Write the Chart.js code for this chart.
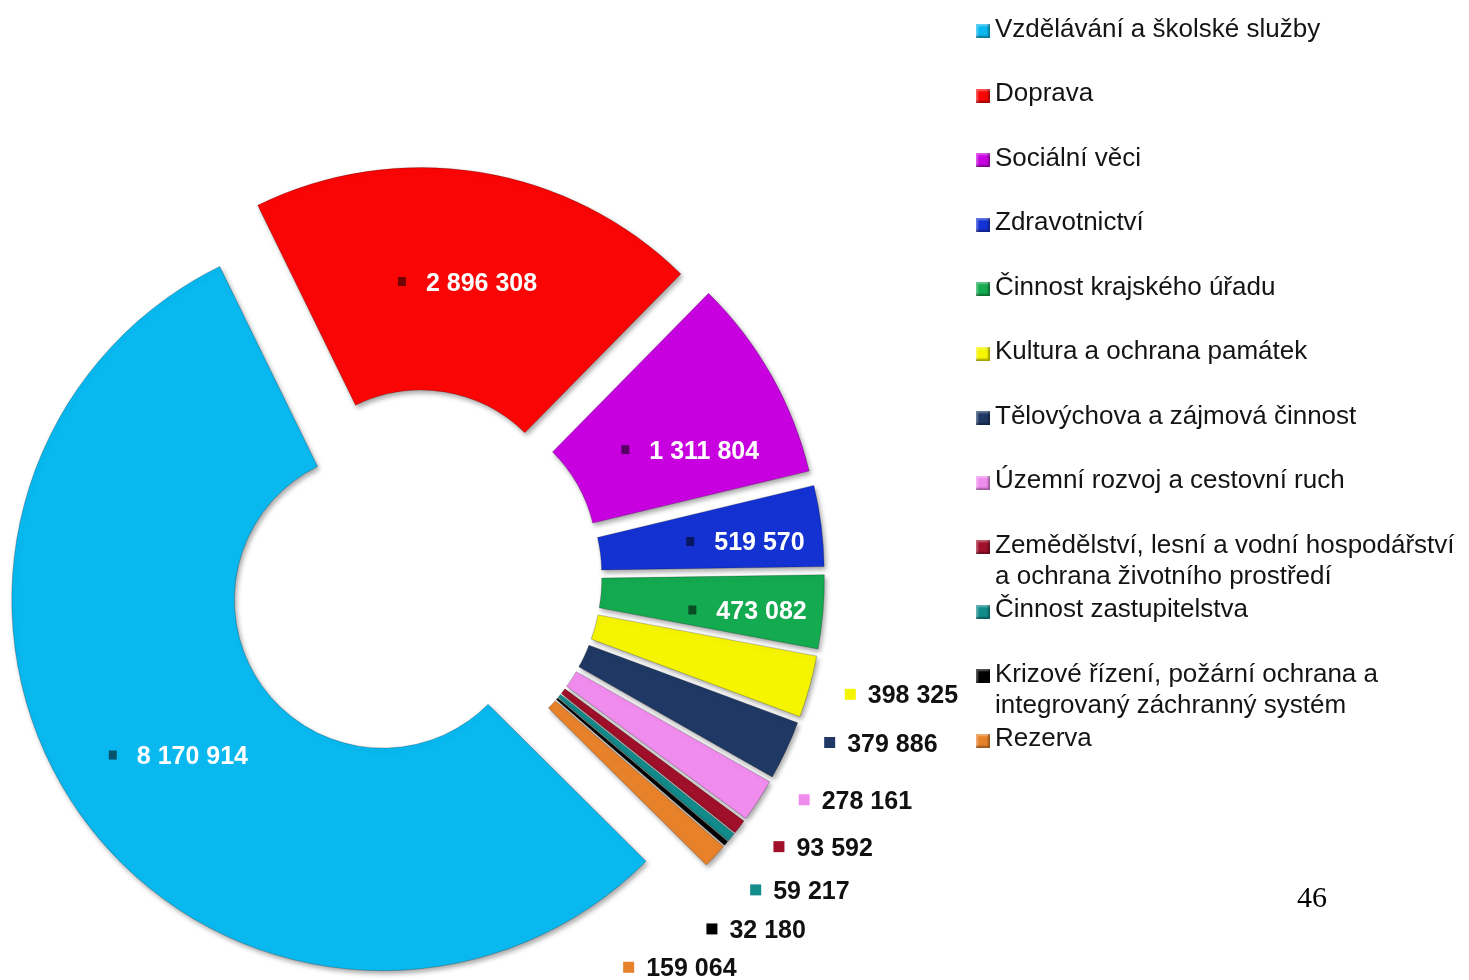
<!DOCTYPE html>
<html>
<head>
<meta charset="utf-8">
<script src="https://cdn.jsdelivr.net/npm/chart.js@4/dist/chart.umd.min.js"></script>
<style>
    html, body { margin: 0; padding: 0; background: #fff; overflow: hidden; }
    #wrap { position: relative; width: 1469px; height: 980px; }
    #graf { position: absolute; left: 0; top: 0; }
    #legenda { position: absolute; left: 976px; top: 0; font-family: "Liberation Sans", Arial, sans-serif; font-size: 26px; line-height: 31px; color: #141414; }
    .pol { position: absolute; left: 0; white-space: nowrap; }
    .ctverec { position: absolute; left: 0; top: 11.5px; width: 14px; height: 14px; box-shadow: inset -2px -2px 2px rgba(0,0,0,0.35), inset 2px 2px 2px rgba(255,255,255,0.35); }
    .text { position: absolute; left: 19px; top: 0; }
    #strana { position: absolute; left: 1297px; top: 882px; font-family: "Liberation Serif", "Times New Roman", serif; font-size: 30px; line-height: 30px; color: #000; }
</style>
</head>
<body>
<div id="wrap">
    <canvas id="graf" width="1469" height="980"></canvas>
    <div id="legenda"></div>
    <div id="strana">46</div>
</div>
<script>
// DATA
const kategorie = [
    'Vzdělávání a školské služby',
    'Doprava',
    'Sociální věci',
    'Zdravotnictví',
    'Činnost krajského úřadu',
    'Kultura a ochrana památek',
    'Tělovýchova a zájmová činnost',
    'Územní rozvoj a cestovní ruch',
    ['Zemědělství, lesní a vodní hospodářství', 'a ochrana životního prostředí'],
    'Činnost zastupitelstva',
    ['Krizové řízení, požární ochrana a', 'integrovaný záchranný systém'],
    'Rezerva'
];
const hodnoty = [8170914, 2896308, 1311804, 519570, 473082, 398325, 379886, 278161, 93592, 59217, 32180, 159064];
const barvy = ['#08B8EE', '#FA0505', '#C800E0', '#1432D2', '#14AA50', '#F5F500',
               '#1F3864', '#F08CEE', '#A0102A', '#138C8C', '#000000', '#E8822A'];

// umisteni popisku (otoceni ve stupnich, vzdalenost jako nasobek vnejsiho polomeru)
const posunUhlu = [-1.6, 1.1, 5.4, 1.2, 0.85, -0.3, -3.3, -3.2, -0.7, 3.9, 10.7, 20.8];
const polomerPopisku = [0.692, 0.704, 0.714, 0.792, 0.797, 1.097, 1.086, 1.092, 1.105, 1.132, 1.129, 1.094];
const UVNITR = 5;
const VYSUNUTI = 39;

function fmt(v) {
    return String(v).replace(/\B(?=(\d{3})+(?!\d))/g, ' ');
}

// vysunute vysece + popisky
const rozlozeni = {
    id: 'rozlozeni',
    beforeDatasetDraw(chart, args) {
        const ctx = chart.ctx;
        args.meta.data.forEach(function (arc) {
            const a = (arc.startAngle + arc.endAngle) / 2;
            ctx.save();
            ctx.translate(Math.cos(a) * VYSUNUTI, Math.sin(a) * VYSUNUTI);
            ctx.shadowColor = 'rgba(0,0,0,0.35)';
            ctx.shadowBlur = 5;
            ctx.shadowOffsetX = 2;
            ctx.shadowOffsetY = 3;
            arc.draw(ctx);
            ctx.restore();
        });
        return false;
    },
    afterDatasetsDraw(chart) {
        const ctx = chart.ctx;
        const meta = chart.getDatasetMeta(0);
        ctx.save();
        ctx.font = 'bold 25px "Liberation Sans", Arial, sans-serif';
        ctx.textBaseline = 'alphabetic';
        meta.data.forEach(function (arc, i) {
            const a = (arc.startAngle + arc.endAngle) / 2;
            const cx = arc.x + Math.cos(a) * VYSUNUTI;
            const cy = arc.y + Math.sin(a) * VYSUNUTI;
            const b = a + posunUhlu[i] * Math.PI / 180;
            const r = arc.outerRadius * polomerPopisku[i];
            const px = cx + Math.cos(b) * r;
            const py = cy + Math.sin(b) * r;
            const txt = fmt(hodnoty[i]);
            const w = ctx.measureText(txt).width;
            if (i < UVNITR) {
                const left = px - (28 + w) / 2;
                ctx.fillStyle = barvy[i];
                ctx.fillRect(left, py - 4.5, 8, 9);
                ctx.fillStyle = 'rgba(0,0,0,0.55)';
                ctx.fillRect(left, py - 4.5, 8, 9);
                ctx.fillStyle = '#ffffff';
                ctx.fillText(txt, left + 28, py + 9);
            } else {
                ctx.fillStyle = barvy[i];
                ctx.fillRect(px, py - 5.5, 11, 11);
                ctx.fillStyle = '#111111';
                ctx.fillText(txt, px + 23, py + 9);
            }
        });
        ctx.restore();
    }
};

const graf = document.getElementById('graf');

new Chart(graf, {
    type: 'doughnut',
    data: {
        labels: kategorie,
        datasets: [{
            data: hodnoty,
            backgroundColor: barvy,
            borderColor: 'rgba(0,0,0,0.22)',
            borderWidth: 1
        }]
    },
    options: {
        responsive: false,
        animation: false,
        events: [],
        rotation: 134.8,
        radius: 371,
        cutout: '40%',
        layout: {
            padding: { left: 0, right: 640, top: 174, bottom: 0 }
        },
        plugins: {
            legend: { display: false },
            tooltip: { enabled: false }
        }
    },
    plugins: [rozlozeni]
});

// LEGENDA
const legenda = document.getElementById('legenda');
kategorie.forEach(function (k, i) {
    const pol = document.createElement('div');
    pol.className = 'pol';
    pol.style.top = (12.5 + 64.5 * i) + 'px';
    const box = document.createElement('span');
    box.className = 'ctverec';
    box.style.background = barvy[i];
    const t = document.createElement('span');
    t.className = 'text';
    (Array.isArray(k) ? k : [k]).forEach(function (radek, j) {
        if (j > 0) t.appendChild(document.createElement('br'));
        t.appendChild(document.createTextNode(radek));
    });
    pol.appendChild(box);
    pol.appendChild(t);
    legenda.appendChild(pol);
});
</script>
</body>
</html>
